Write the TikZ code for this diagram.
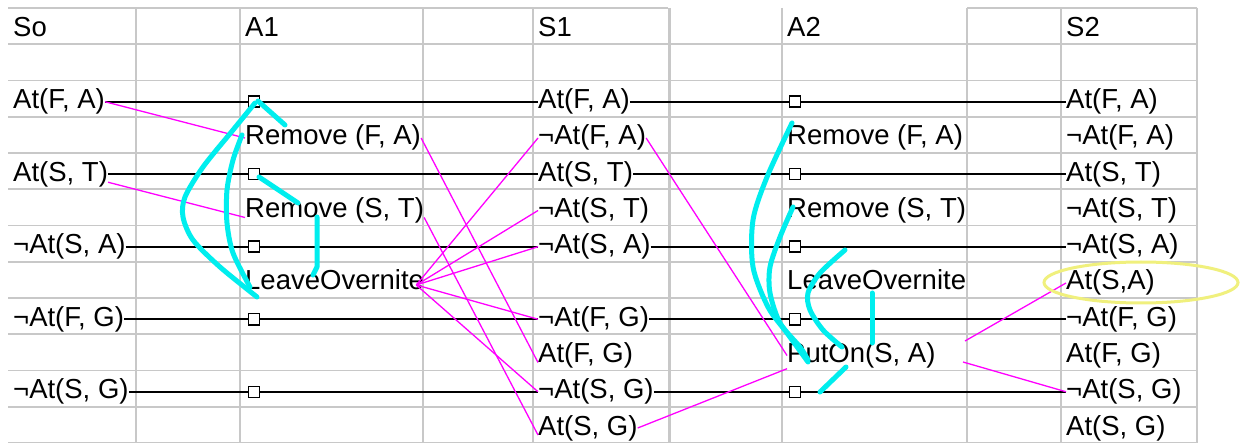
\documentclass[tikz,border=0pt]{standalone}
\usepackage{fontspec}
\setmainfont{Liberation Sans}
\usetikzlibrary{calc}
\definecolor{gridc}{RGB}{200,200,200}
\definecolor{mag}{RGB}{255,0,255}
\definecolor{cyn}{RGB}{0,238,238}
\definecolor{yel}{RGB}{240,240,125}
\begin{document}
\begin{tikzpicture}[x=1pt,y=-1pt,
 txt/.style={anchor=base west, inner sep=0pt, text height=20pt, text depth=6pt, font=\fontsize{27.5}{30}\selectfont},
 noop/.style={draw, line width=1.5pt, minimum size=11pt, inner sep=0pt, fill=white},
 persist/.style={line width=1.8pt},
 pre/.style={mag, line width=1.3pt},
 mutex/.style={cyn, line width=5pt, line cap=round, line join=round},
 gridl/.style={gridc, line width=1.8pt}]
\fill[white] (0,0) rectangle (1241,443);
\useasboundingbox (0,0) rectangle (1241,443);
% grid
\foreach \k in {1,...,12} {
  \draw[gridl] (8,{8+36.25*\k}) -- (668,{8+36.25*\k});
  \draw[gridl] (670,{8+36.25*\k}) -- (1197,{8+36.25*\k});
}
\draw[gridl] (8,8) -- (668,8);
\draw[gridl] (967,8) -- (1197,8);
\foreach \x in {136,240,423,533,782,967,1061,1197} \draw[gridl] (\x,8) -- (\x,443);
\draw[gridc, line width=3pt] (669,8) -- (669,443);
% headers
\node[txt] (h0) at (13,36.25) {So};
\node[txt] (h1) at (245,36.25) {A1};
\node[txt] (h2) at (538,36.25) {S1};
\node[txt] (h3) at (787,36.25) {A2};
\node[txt] (h4) at (1066,36.25) {S2};
% S0
\node[txt] (so2) at (13,108.75) {At(F, A)};
\node[txt] (so4) at (13,181.25) {At(S, T)};
\node[txt] (so6) at (13,253.75) {¬At(S, A)};
\node[txt] (so8) at (13,326.25) {¬At(F, G)};
\node[txt] (so10) at (13,398.75) {¬At(S, G)};
% A1
\node[txt] (ra1) at (245,145) {Remove (F, A)};
\node[txt] (rs1) at (245,217.5) {Remove (S, T)};
\node[txt] (lo1) at (245,290) {LeaveOvernite};
% S1
\node[txt] (s1t2) at (538,108.75) {At(F, A)};
\node[txt] (s1t3) at (538,145) {¬At(F, A)};
\node[txt] (s1t4) at (538,181.25) {At(S, T)};
\node[txt] (s1t5) at (538,217.5) {¬At(S, T)};
\node[txt] (s1t6) at (538,253.75) {¬At(S, A)};
\node[txt] (s1t8) at (538,326.25) {¬At(F, G)};
\node[txt] (s1t9) at (538,362.5) {At(F, G)};
\node[txt] (s1t10) at (538,398.75) {¬At(S, G)};
\node[txt] (s1t11) at (538,435) {At(S, G)};
% A2
\node[txt] (ra2) at (787,145) {Remove (F, A)};
\node[txt] (rs2) at (787,217.5) {Remove (S, T)};
\node[txt] (lo2) at (787,290) {LeaveOvernite};
\node[txt] (pu) at (787,362.5) {PutOn(S, A)};
% S2
\node[txt] (s2t2) at (1066,108.75) {At(F, A)};
\node[txt] (s2t3) at (1066,145) {¬At(F, A)};
\node[txt] (s2t4) at (1066,181.25) {At(S, T)};
\node[txt] (s2t5) at (1066,217.5) {¬At(S, T)};
\node[txt] (s2t6) at (1066,253.75) {¬At(S, A)};
\node[txt] (s2t7) at (1066,290) {At(S,A)};
\node[txt] (s2t8) at (1066,326.25) {¬At(F, G)};
\node[txt] (s2t9) at (1066,362.5) {At(F, G)};
\node[txt] (s2t10) at (1066,398.75) {¬At(S, G)};
\node[txt] (s2t11) at (1066,435) {At(S, G)};
% persistence lines and no-op boxes
\foreach \r/\y in {2/101.75,4/174.25,6/246.75,8/319.25,10/391.75} {
  \node[noop] (a1q\r) at (254,\y) {};
  \node[noop] (a2q\r) at (795,\y) {};
  \draw[persist] (so\r.east) -- (a1q\r.west);
  \draw[persist] (a1q\r.east) -- (s1t\r.west);
  \draw[persist] (s1t\r.east) -- (a2q\r.west);
  \draw[persist] (a2q\r.east) -- (s2t\r.west);
}
% magenta links
\coordinate (pr1) at (965,341);
\coordinate (pr2) at (963,362);
\coordinate (lof) at ($(lo1.east)+(-8,2)$);
\draw[pre] (so2.east) -- (ra1.west);
\draw[pre] ($(so4.east)+(0,8)$) -- (rs1.base west);
\draw[pre] (ra1.east) -- (s1t9.base west);
\draw[pre] (rs1.base east) -- (s1t11.base west);
\foreach \t in {s1t3,s1t5,s1t6,s1t8,s1t10} \draw[pre] (lof) -- (\t.west);
\draw[pre] (s1t3.east) -- (pu.west);
\draw[pre] (s1t11.east) -- (pu.south west);
\draw[pre] (pr1) -- (s2t7.west);
\draw[pre] (pr2) -- (s2t10.west);
% yellow ellipse
\draw[yel, line width=3pt] (1141,282.5) ellipse [x radius=97, y radius=20.5];
% cyan mutex marks, A1
\draw[mutex] (258,101) -- (285,125);
\draw[mutex] plot[smooth] coordinates {(255,103) (233,130) (203,167) (185,197) (183,217) (193,240) (220,267) (257,297)};
\draw[mutex] plot[smooth] coordinates {(242,135) (233,160) (227,190) (227,223) (233,253) (250,287)};
\draw[mutex] (259,177) -- (298,203);
\draw[mutex] (317,217) -- (317,267) -- (313,275);
% cyan mutex marks, A2
\draw[mutex] plot[smooth] coordinates {(792,123) (767,177) (753,220) (753,267) (768,307) (787,333) (808,362)};
\draw[mutex] plot[smooth] coordinates {(793,207) (780,237) (770,267) (770,293) (780,323) (800,347) (808,360)};
\draw[mutex] plot[smooth] coordinates {(845,250) (820,273) (808,293) (810,310) (823,330) (842,347)};
\draw[mutex] (872,293) -- (872,343);
\draw[mutex] (846,367) -- (820,392);
\end{tikzpicture}
\end{document}
